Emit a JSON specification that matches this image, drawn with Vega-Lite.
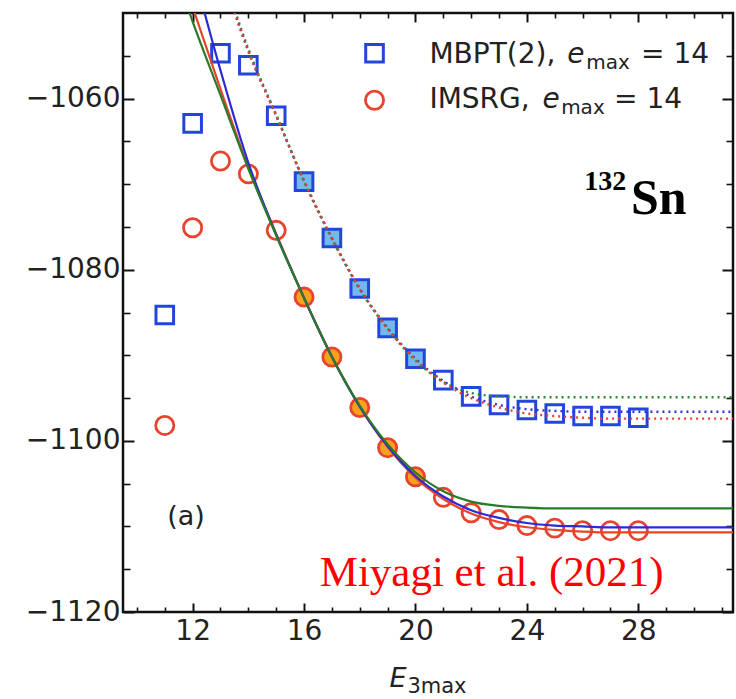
{
  "$schema": "https://vega.github.io/schema/vega-lite/v6.json",
  "width": 610,
  "height": 599,
  "autosize": {"type": "none"},
  "padding": {"left": 123, "top": 13, "right": 3, "bottom": 87},
  "background": "white",
  "view": {"stroke": "#111", "strokeWidth": 2.5},
  "config": {
    "font": "DejaVu Sans",
    "axis": {"domain": false, "grid": false, "title": null, "tickColor": "#111", "labelColor": "#222", "labelFlush": false, "labelOverlap": false, "labelBound": false}
  },
  "datasets": {
    "mbpt": [
      {"E3max": 11, "E": -1085.3, "fit": false},
      {"E3max": 12, "E": -1062.9, "fit": false},
      {"E3max": 13, "E": -1054.7, "fit": false},
      {"E3max": 14, "E": -1056.1, "fit": false},
      {"E3max": 15, "E": -1062.0, "fit": false},
      {"E3max": 16, "E": -1069.7, "fit": true},
      {"E3max": 17, "E": -1076.3, "fit": true},
      {"E3max": 18, "E": -1082.2, "fit": true},
      {"E3max": 19, "E": -1086.8, "fit": true},
      {"E3max": 20, "E": -1090.4, "fit": true},
      {"E3max": 21, "E": -1092.9, "fit": false},
      {"E3max": 22, "E": -1094.8, "fit": false},
      {"E3max": 23, "E": -1095.8, "fit": false},
      {"E3max": 24, "E": -1096.4, "fit": false},
      {"E3max": 25, "E": -1096.8, "fit": false},
      {"E3max": 26, "E": -1097.1, "fit": false},
      {"E3max": 27, "E": -1097.1, "fit": false},
      {"E3max": 28, "E": -1097.3, "fit": false}
    ],
    "imsrg": [
      {"E3max": 11, "E": -1098.2, "fit": false},
      {"E3max": 12, "E": -1075.1, "fit": false},
      {"E3max": 13, "E": -1067.3, "fit": false},
      {"E3max": 14, "E": -1068.8, "fit": false},
      {"E3max": 15, "E": -1075.4, "fit": false},
      {"E3max": 16, "E": -1083.2, "fit": true},
      {"E3max": 17, "E": -1090.2, "fit": true},
      {"E3max": 18, "E": -1096.1, "fit": true},
      {"E3max": 19, "E": -1100.8, "fit": true},
      {"E3max": 20, "E": -1104.2, "fit": true},
      {"E3max": 21, "E": -1106.6, "fit": false},
      {"E3max": 22, "E": -1108.4, "fit": false},
      {"E3max": 23, "E": -1109.2, "fit": false},
      {"E3max": 24, "E": -1109.9, "fit": false},
      {"E3max": 25, "E": -1110.2, "fit": false},
      {"E3max": 26, "E": -1110.5, "fit": false},
      {"E3max": 27, "E": -1110.5, "fit": false},
      {"E3max": 28, "E": -1110.5, "fit": false}
    ],
    "fits": [
      {"curve": "imsrg-1", "E3max": 12, "E": -1049.3},
      {"curve": "imsrg-1", "E3max": 13, "E": -1058.9},
      {"curve": "imsrg-1", "E3max": 14, "E": -1068.0},
      {"curve": "imsrg-1", "E3max": 15, "E": -1075.8},
      {"curve": "imsrg-1", "E3max": 16, "E": -1083.3},
      {"curve": "imsrg-1", "E3max": 17, "E": -1090.1},
      {"curve": "imsrg-1", "E3max": 18, "E": -1096.0},
      {"curve": "imsrg-1", "E3max": 19, "E": -1100.7},
      {"curve": "imsrg-1", "E3max": 20, "E": -1104.3},
      {"curve": "imsrg-1", "E3max": 21, "E": -1106.8},
      {"curve": "imsrg-1", "E3max": 22, "E": -1108.5},
      {"curve": "imsrg-1", "E3max": 23, "E": -1109.5},
      {"curve": "imsrg-1", "E3max": 24, "E": -1110.1},
      {"curve": "imsrg-1", "E3max": 25, "E": -1110.4},
      {"curve": "imsrg-1", "E3max": 26, "E": -1110.6},
      {"curve": "imsrg-1", "E3max": 27, "E": -1110.7},
      {"curve": "imsrg-1", "E3max": 31.4, "E": -1110.7},

      {"curve": "imsrg-2", "E3max": 12, "E": -1044.8},
      {"curve": "imsrg-2", "E3max": 13, "E": -1056.7},
      {"curve": "imsrg-2", "E3max": 14, "E": -1067.5},
      {"curve": "imsrg-2", "E3max": 15, "E": -1075.9},
      {"curve": "imsrg-2", "E3max": 16, "E": -1083.3},
      {"curve": "imsrg-2", "E3max": 17, "E": -1090.2},
      {"curve": "imsrg-2", "E3max": 18, "E": -1096.0},
      {"curve": "imsrg-2", "E3max": 19, "E": -1100.6},
      {"curve": "imsrg-2", "E3max": 20, "E": -1104.1},
      {"curve": "imsrg-2", "E3max": 21, "E": -1106.5},
      {"curve": "imsrg-2", "E3max": 22, "E": -1108.1},
      {"curve": "imsrg-2", "E3max": 23, "E": -1109.0},
      {"curve": "imsrg-2", "E3max": 24, "E": -1109.6},
      {"curve": "imsrg-2", "E3max": 25, "E": -1109.9},
      {"curve": "imsrg-2", "E3max": 26, "E": -1110.0},
      {"curve": "imsrg-2", "E3max": 27, "E": -1110.1},
      {"curve": "imsrg-2", "E3max": 31.4, "E": -1110.1},

      {"curve": "imsrg-3", "E3max": 11.5, "E": -1046.4},
      {"curve": "imsrg-3", "E3max": 12, "E": -1051.0},
      {"curve": "imsrg-3", "E3max": 13, "E": -1059.6},
      {"curve": "imsrg-3", "E3max": 14, "E": -1068.2},
      {"curve": "imsrg-3", "E3max": 15, "E": -1076.0},
      {"curve": "imsrg-3", "E3max": 16, "E": -1083.3},
      {"curve": "imsrg-3", "E3max": 17, "E": -1090.2},
      {"curve": "imsrg-3", "E3max": 18, "E": -1095.9},
      {"curve": "imsrg-3", "E3max": 19, "E": -1100.4},
      {"curve": "imsrg-3", "E3max": 20, "E": -1103.7},
      {"curve": "imsrg-3", "E3max": 21, "E": -1105.9},
      {"curve": "imsrg-3", "E3max": 22, "E": -1107.1},
      {"curve": "imsrg-3", "E3max": 23, "E": -1107.6},
      {"curve": "imsrg-3", "E3max": 24, "E": -1107.8},
      {"curve": "imsrg-3", "E3max": 25, "E": -1107.9},
      {"curve": "imsrg-3", "E3max": 31.4, "E": -1107.9},

      {"curve": "mbpt-1", "E3max": 13, "E": -1045.0},
      {"curve": "mbpt-1", "E3max": 14, "E": -1054.5},
      {"curve": "mbpt-1", "E3max": 15, "E": -1062.0},
      {"curve": "mbpt-1", "E3max": 16, "E": -1069.6},
      {"curve": "mbpt-1", "E3max": 17, "E": -1076.3},
      {"curve": "mbpt-1", "E3max": 18, "E": -1082.2},
      {"curve": "mbpt-1", "E3max": 19, "E": -1086.9},
      {"curve": "mbpt-1", "E3max": 20, "E": -1090.5},
      {"curve": "mbpt-1", "E3max": 21, "E": -1093.2},
      {"curve": "mbpt-1", "E3max": 22, "E": -1095.0},
      {"curve": "mbpt-1", "E3max": 23, "E": -1096.1},
      {"curve": "mbpt-1", "E3max": 24, "E": -1096.8},
      {"curve": "mbpt-1", "E3max": 25, "E": -1097.1},
      {"curve": "mbpt-1", "E3max": 26, "E": -1097.3},
      {"curve": "mbpt-1", "E3max": 27, "E": -1097.4},
      {"curve": "mbpt-1", "E3max": 31.4, "E": -1097.4},

      {"curve": "mbpt-2", "E3max": 13, "E": -1044.8},
      {"curve": "mbpt-2", "E3max": 14, "E": -1054.4},
      {"curve": "mbpt-2", "E3max": 15, "E": -1062.0},
      {"curve": "mbpt-2", "E3max": 16, "E": -1069.6},
      {"curve": "mbpt-2", "E3max": 17, "E": -1076.3},
      {"curve": "mbpt-2", "E3max": 18, "E": -1082.2},
      {"curve": "mbpt-2", "E3max": 19, "E": -1086.8},
      {"curve": "mbpt-2", "E3max": 20, "E": -1090.4},
      {"curve": "mbpt-2", "E3max": 21, "E": -1093.0},
      {"curve": "mbpt-2", "E3max": 22, "E": -1094.8},
      {"curve": "mbpt-2", "E3max": 23, "E": -1095.8},
      {"curve": "mbpt-2", "E3max": 24, "E": -1096.3},
      {"curve": "mbpt-2", "E3max": 25, "E": -1096.5},
      {"curve": "mbpt-2", "E3max": 26, "E": -1096.6},
      {"curve": "mbpt-2", "E3max": 31.4, "E": -1096.6},

      {"curve": "mbpt-3", "E3max": 13, "E": -1044.4},
      {"curve": "mbpt-3", "E3max": 14, "E": -1054.2},
      {"curve": "mbpt-3", "E3max": 15, "E": -1061.9},
      {"curve": "mbpt-3", "E3max": 16, "E": -1069.7},
      {"curve": "mbpt-3", "E3max": 17, "E": -1076.4},
      {"curve": "mbpt-3", "E3max": 18, "E": -1082.3},
      {"curve": "mbpt-3", "E3max": 19, "E": -1086.9},
      {"curve": "mbpt-3", "E3max": 20, "E": -1090.6},
      {"curve": "mbpt-3", "E3max": 21, "E": -1093.1},
      {"curve": "mbpt-3", "E3max": 22, "E": -1094.4},
      {"curve": "mbpt-3", "E3max": 23, "E": -1094.8},
      {"curve": "mbpt-3", "E3max": 24, "E": -1094.9},
      {"curve": "mbpt-3", "E3max": 31.4, "E": -1094.9}
    ]
  },
  "layer": [
    {
      "data": {"name": "mbpt"},
      "mark": {"type": "point", "opacity": 0},
      "encoding": {
        "x": {"field": "E3max", "type": "quantitative", "scale": {"domain": [9.5, 31.4], "nice": false, "zero": false},
              "axis": {"orient": "bottom", "values": [12, 16, 20, 24, 28], "format": "d", "tickSize": -9, "tickWidth": 2, "labelFontSize": 28, "labelPadding": 14}},
        "y": {"field": "E", "type": "quantitative", "scale": {"domain": [-1120, -1050], "nice": false, "zero": false},
              "axis": {"orient": "left", "values": [-1120, -1100, -1080, -1060], "format": "d", "tickSize": -11, "tickWidth": 2, "labelFontSize": 28, "labelPadding": 14}}
      }
    },
    {
      "data": {"name": "mbpt"},
      "mark": {"type": "point", "opacity": 0},
      "encoding": {
        "x": {"field": "E3max", "type": "quantitative", "scale": {"domain": [9.5, 31.4], "nice": false, "zero": false},
              "axis": {"orient": "bottom", "values": [10, 11, 13, 14, 15, 17, 18, 19, 21, 22, 23, 25, 26, 27, 29, 30, 31], "tickSize": -5, "tickWidth": 1.6, "labels": false}},
        "y": {"field": "E", "type": "quantitative", "scale": {"domain": [-1120, -1050], "nice": false, "zero": false},
              "axis": {"orient": "left", "values": [-1115, -1110, -1105, -1095, -1090, -1085, -1075, -1070, -1065, -1055], "tickSize": -7, "tickWidth": 1.6, "labels": false}}
      }
    },
    {
      "data": {"name": "mbpt"},
      "mark": {"type": "point", "opacity": 0},
      "encoding": {
        "x": {"field": "E3max", "type": "quantitative", "scale": {"domain": [9.5, 31.4], "nice": false, "zero": false},
              "axis": {"orient": "top", "values": [12, 16, 20, 24, 28], "tickSize": -9, "tickWidth": 2, "labels": false}},
        "y": {"field": "E", "type": "quantitative", "scale": {"domain": [-1120, -1050], "nice": false, "zero": false},
              "axis": {"orient": "right", "values": [-1120, -1100, -1080, -1060], "tickSize": -11, "tickWidth": 2, "labels": false}}
      }
    },
    {
      "data": {"name": "mbpt"},
      "mark": {"type": "point", "opacity": 0},
      "encoding": {
        "x": {"field": "E3max", "type": "quantitative", "scale": {"domain": [9.5, 31.4], "nice": false, "zero": false},
              "axis": {"orient": "top", "values": [10, 11, 13, 14, 15, 17, 18, 19, 21, 22, 23, 25, 26, 27, 29, 30, 31], "tickSize": -5, "tickWidth": 1.6, "labels": false}},
        "y": {"field": "E", "type": "quantitative", "scale": {"domain": [-1120, -1050], "nice": false, "zero": false},
              "axis": {"orient": "right", "values": [-1115, -1110, -1105, -1095, -1090, -1085, -1075, -1070, -1065, -1055], "tickSize": -7, "tickWidth": 1.6, "labels": false}}
      }
    },
    {
      "data": {"name": "mbpt"},
      "mark": {"type": "point", "shape": "square", "size": 310, "strokeWidth": 3, "stroke": "#2245dc", "fill": "#74b9ec", "opacity": 1},
      "encoding": {
        "x": {"field": "E3max", "type": "quantitative", "scale": {"domain": [9.5, 31.4], "nice": false, "zero": false}, "axis": null},
        "y": {"field": "E", "type": "quantitative", "scale": {"domain": [-1120, -1050], "nice": false, "zero": false}, "axis": null},
        "fillOpacity": {"condition": {"test": "datum.fit", "value": 1}, "value": 0}
      }
    },
    {
      "data": {"name": "imsrg"},
      "mark": {"type": "point", "shape": "circle", "size": 330, "strokeWidth": 2.8, "stroke": "#e8432c", "fill": "#f7a11d", "opacity": 1},
      "encoding": {
        "x": {"field": "E3max", "type": "quantitative", "scale": {"domain": [9.5, 31.4], "nice": false, "zero": false}, "axis": null},
        "y": {"field": "E", "type": "quantitative", "scale": {"domain": [-1120, -1050], "nice": false, "zero": false}, "axis": null},
        "fillOpacity": {"condition": {"test": "datum.fit", "value": 1}, "value": 0}
      }
    },
    {
      "data": {"name": "fits"},
      "transform": [{"filter": "datum.curve === 'mbpt-3'"}],
      "mark": {"type": "line", "clip": true, "interpolate": "monotone", "stroke": "#2e8a2e", "strokeWidth": 2.4, "strokeDash": [2, 4], "strokeDashOffset": 0},
      "encoding": {
        "x": {"field": "E3max", "type": "quantitative", "scale": {"domain": [9.5, 31.4], "nice": false, "zero": false}, "axis": null},
        "y": {"field": "E", "type": "quantitative", "scale": {"domain": [-1120, -1050], "nice": false, "zero": false}, "axis": null}
      }
    },
    {
      "data": {"name": "fits"},
      "transform": [{"filter": "datum.curve === 'mbpt-2'"}],
      "mark": {"type": "line", "clip": true, "interpolate": "monotone", "stroke": "#3030e0", "strokeWidth": 2.4, "strokeDash": [2, 4], "strokeDashOffset": 2},
      "encoding": {
        "x": {"field": "E3max", "type": "quantitative", "scale": {"domain": [9.5, 31.4], "nice": false, "zero": false}, "axis": null},
        "y": {"field": "E", "type": "quantitative", "scale": {"domain": [-1120, -1050], "nice": false, "zero": false}, "axis": null}
      }
    },
    {
      "data": {"name": "fits"},
      "transform": [{"filter": "datum.curve === 'mbpt-1'"}],
      "mark": {"type": "line", "clip": true, "interpolate": "monotone", "stroke": "#e8432c", "strokeWidth": 2.4, "strokeDash": [2, 4], "strokeDashOffset": 4},
      "encoding": {
        "x": {"field": "E3max", "type": "quantitative", "scale": {"domain": [9.5, 31.4], "nice": false, "zero": false}, "axis": null},
        "y": {"field": "E", "type": "quantitative", "scale": {"domain": [-1120, -1050], "nice": false, "zero": false}, "axis": null}
      }
    },
    {
      "data": {"name": "fits"},
      "transform": [{"filter": "datum.curve === 'imsrg-1'"}],
      "mark": {"type": "line", "clip": true, "interpolate": "monotone", "stroke": "#e8432c", "strokeWidth": 2.2},
      "encoding": {
        "x": {"field": "E3max", "type": "quantitative", "scale": {"domain": [9.5, 31.4], "nice": false, "zero": false}, "axis": null},
        "y": {"field": "E", "type": "quantitative", "scale": {"domain": [-1120, -1050], "nice": false, "zero": false}, "axis": null}
      }
    },
    {
      "data": {"name": "fits"},
      "transform": [{"filter": "datum.curve === 'imsrg-2'"}],
      "mark": {"type": "line", "clip": true, "interpolate": "monotone", "stroke": "#2a2ad6", "strokeWidth": 2.2},
      "encoding": {
        "x": {"field": "E3max", "type": "quantitative", "scale": {"domain": [9.5, 31.4], "nice": false, "zero": false}, "axis": null},
        "y": {"field": "E", "type": "quantitative", "scale": {"domain": [-1120, -1050], "nice": false, "zero": false}, "axis": null}
      }
    },
    {
      "data": {"name": "fits"},
      "transform": [{"filter": "datum.curve === 'imsrg-3'"}],
      "mark": {"type": "line", "clip": true, "interpolate": "monotone", "stroke": "#2a7a2a", "strokeWidth": 2.2},
      "encoding": {
        "x": {"field": "E3max", "type": "quantitative", "scale": {"domain": [9.5, 31.4], "nice": false, "zero": false}, "axis": null},
        "y": {"field": "E", "type": "quantitative", "scale": {"domain": [-1120, -1050], "nice": false, "zero": false}, "axis": null}
      }
    },
    {
      "data": {"values": [{"x": 18.53, "y": -1054.7}]},
      "mark": {"type": "point", "shape": "square", "size": 310, "strokeWidth": 3, "stroke": "#2245dc", "fill": "transparent", "opacity": 1},
      "encoding": {
        "x": {"field": "x", "type": "quantitative", "scale": {"domain": [9.5, 31.4], "nice": false, "zero": false}, "axis": null},
        "y": {"field": "y", "type": "quantitative", "scale": {"domain": [-1120, -1050], "nice": false, "zero": false}, "axis": null}
      }
    },
    {
      "data": {"values": [{"x": 18.53, "y": -1060.2}]},
      "mark": {"type": "point", "shape": "circle", "size": 330, "strokeWidth": 2.8, "stroke": "#e8432c", "fill": "transparent", "opacity": 1},
      "encoding": {
        "x": {"field": "x", "type": "quantitative", "scale": {"domain": [9.5, 31.4], "nice": false, "zero": false}, "axis": null},
        "y": {"field": "y", "type": "quantitative", "scale": {"domain": [-1120, -1050], "nice": false, "zero": false}, "axis": null}
      }
    },
    {
      "data": {"values": [
        {"x": 20.5, "y": -1055.85, "t": "MBPT(2),"},
        {"x": 28.1, "y": -1055.85, "t": "= 14"},
        {"x": 20.5, "y": -1061.1, "t": "IMSRG,"},
        {"x": 27.13, "y": -1061.1, "t": "= 14"}
      ]},
      "mark": {"type": "text", "align": "left", "baseline": "alphabetic", "font": "DejaVu Sans", "fontSize": 28, "color": "#222"},
      "encoding": {
        "x": {"field": "x", "type": "quantitative", "scale": {"domain": [9.5, 31.4], "nice": false, "zero": false}, "axis": null},
        "y": {"field": "y", "type": "quantitative", "scale": {"domain": [-1120, -1050], "nice": false, "zero": false}, "axis": null},
        "text": {"field": "t"}
      }
    },
    {
      "data": {"values": [
        {"x": 25.45, "y": -1055.85, "t": "e"},
        {"x": 24.56, "y": -1061.1, "t": "e"}
      ]},
      "mark": {"type": "text", "align": "left", "baseline": "alphabetic", "font": "DejaVu Sans", "fontStyle": "italic", "fontSize": 28, "color": "#222"},
      "encoding": {
        "x": {"field": "x", "type": "quantitative", "scale": {"domain": [9.5, 31.4], "nice": false, "zero": false}, "axis": null},
        "y": {"field": "y", "type": "quantitative", "scale": {"domain": [-1120, -1050], "nice": false, "zero": false}, "axis": null},
        "text": {"field": "t"}
      }
    },
    {
      "data": {"values": [
        {"x": 26.13, "y": -1056.6, "t": "max"},
        {"x": 25.23, "y": -1061.85, "t": "max"}
      ]},
      "mark": {"type": "text", "align": "left", "baseline": "alphabetic", "font": "DejaVu Sans", "fontSize": 20, "color": "#222"},
      "encoding": {
        "x": {"field": "x", "type": "quantitative", "scale": {"domain": [9.5, 31.4], "nice": false, "zero": false}, "axis": null},
        "y": {"field": "y", "type": "quantitative", "scale": {"domain": [-1120, -1050], "nice": false, "zero": false}, "axis": null},
        "text": {"field": "t"}
      }
    },
    {
      "data": {"values": [{"x": 11.76, "y": -1108.9, "t": "(a)"}]},
      "mark": {"type": "text", "align": "center", "baseline": "middle", "font": "DejaVu Sans", "fontSize": 27, "color": "#222"},
      "encoding": {
        "x": {"field": "x", "type": "quantitative", "scale": {"domain": [9.5, 31.4], "nice": false, "zero": false}, "axis": null},
        "y": {"field": "y", "type": "quantitative", "scale": {"domain": [-1120, -1050], "nice": false, "zero": false}, "axis": null},
        "text": {"field": "t"}
      }
    },
    {
      "data": {"values": [{"x": 26.06, "y": -1070.7, "t": "132"}]},
      "mark": {"type": "text", "align": "left", "baseline": "alphabetic", "font": "Liberation Serif", "fontWeight": "bold", "fontSize": 28, "color": "#000"},
      "encoding": {
        "x": {"field": "x", "type": "quantitative", "scale": {"domain": [9.5, 31.4], "nice": false, "zero": false}, "axis": null},
        "y": {"field": "y", "type": "quantitative", "scale": {"domain": [-1120, -1050], "nice": false, "zero": false}, "axis": null},
        "text": {"field": "t"}
      }
    },
    {
      "data": {"values": [{"x": 27.74, "y": -1073.5, "t": "Sn"}]},
      "mark": {"type": "text", "align": "left", "baseline": "alphabetic", "font": "Liberation Serif", "fontWeight": "bold", "fontSize": 50, "color": "#000"},
      "encoding": {
        "x": {"field": "x", "type": "quantitative", "scale": {"domain": [9.5, 31.4], "nice": false, "zero": false}, "axis": null},
        "y": {"field": "y", "type": "quantitative", "scale": {"domain": [-1120, -1050], "nice": false, "zero": false}, "axis": null},
        "text": {"field": "t"}
      }
    },
    {
      "data": {"values": [{"x": 16.56, "y": -1117.0, "t": "Miyagi et al. (2021)"}]},
      "mark": {"type": "text", "align": "left", "baseline": "alphabetic", "font": "Liberation Serif", "fontSize": 43, "color": "#ff0000"},
      "encoding": {
        "x": {"field": "x", "type": "quantitative", "scale": {"domain": [9.5, 31.4], "nice": false, "zero": false}, "axis": null},
        "y": {"field": "y", "type": "quantitative", "scale": {"domain": [-1120, -1050], "nice": false, "zero": false}, "axis": null},
        "text": {"field": "t"}
      }
    },
    {
      "data": {"values": [{"x": 19.07, "y": -1128.8, "t": "E"}]},
      "mark": {"type": "text", "align": "left", "baseline": "alphabetic", "font": "DejaVu Sans", "fontStyle": "italic", "fontSize": 27, "color": "#222"},
      "encoding": {
        "x": {"field": "x", "type": "quantitative", "scale": {"domain": [9.5, 31.4], "nice": false, "zero": false}, "axis": null},
        "y": {"field": "y", "type": "quantitative", "scale": {"domain": [-1120, -1050], "nice": false, "zero": false}, "axis": null},
        "text": {"field": "t"}
      }
    },
    {
      "data": {"values": [{"x": 19.71, "y": -1129.45, "t": "3max"}]},
      "mark": {"type": "text", "align": "left", "baseline": "alphabetic", "font": "DejaVu Sans", "fontSize": 21, "color": "#222"},
      "encoding": {
        "x": {"field": "x", "type": "quantitative", "scale": {"domain": [9.5, 31.4], "nice": false, "zero": false}, "axis": null},
        "y": {"field": "y", "type": "quantitative", "scale": {"domain": [-1120, -1050], "nice": false, "zero": false}, "axis": null},
        "text": {"field": "t"}
      }
    }
  ],
  "resolve": {"scale": {"x": "shared", "y": "shared"}, "axis": {"x": "independent", "y": "independent"}}
}
